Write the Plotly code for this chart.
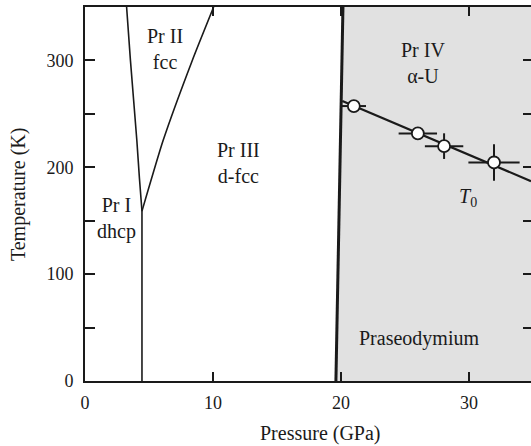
import plotly.graph_objects as go

# Phase boundaries (Pressure GPa, Temperature K)
p_I_III = [4.45, 4.45]
t_I_III = [0, 159]
p_I_II = [4.45, 4.25, 4.05, 3.55, 3.25]
t_I_II = [159, 190, 225, 300, 350]
p_II_III = [4.45, 6.1, 8.38, 10.05]
t_II_III = [159, 225, 300, 350]
p_III_IV = [19.6, 20.15]
t_III_IV = [0, 350]

# T0 data with error bars
p_T0 = [21.0, 26.0, 28.05, 31.95]
t_T0 = [257.3, 231.7, 219.8, 204.5]
p_err = [0.95, 1.5, 1.5, 2.0]
t_err = [0, 4, 12, 17]
p_T0_line = [20.1, 34.84]
t_T0_line = [262, 187]

x_range = [0, 34.84]
y_range = [0, 350]

FONT = "Liberation Serif"
INK = "#1a1a1a"

fig = go.Figure()

# shaded Pr IV region
fig.add_trace(go.Scatter(
    x=p_III_IV + [x_range[1], x_range[1]],
    y=t_III_IV + [y_range[1], y_range[0]],
    fill="toself", fillcolor="#e1e1e1", mode="none", hoverinfo="skip",
    showlegend=False))

for px, ty, w, shp in [(p_I_III, t_I_III, 1.6, "linear"), (p_I_II, t_I_II, 1.6, "spline"),
                       (p_II_III, t_II_III, 1.6, "spline"), (p_III_IV, t_III_IV, 3.0, "linear")]:
    fig.add_trace(go.Scatter(x=px, y=ty, mode="lines",
                             line=dict(color=INK, width=w, shape=shp, smoothing=0.5),
                             showlegend=False))

fig.add_trace(go.Scatter(x=p_T0_line, y=t_T0_line, mode="lines",
                         line=dict(color=INK, width=2.2), showlegend=False))

fig.add_trace(go.Scatter(
    x=p_T0, y=t_T0, mode="markers",
    marker=dict(size=12, color="white", line=dict(color=INK, width=1.8)),
    error_x=dict(type="data", array=p_err, color=INK, thickness=2, width=0),
    error_y=dict(type="data", array=t_err, color=INK, thickness=2, width=0),
    showlegend=False))

# right-side mirrored ticks via overlay axis
fig.add_trace(go.Scatter(x=[None], y=[None], yaxis="y2", showlegend=False))

labels = [
    (6.25, 311, "Pr II<br>fcc"),
    (2.48, 152, "Pr I<br>dhcp"),
    (11.98, 204, "Pr III<br>d-fcc"),
    (26.4, 298, "Pr IV<br>α-U"),
    (29.9, 172, "<i>T</i><sub>0</sub>"),
    (26.1, 40, "Praseodymium"),
]
for x, y, t in labels:
    fig.add_annotation(x=x, y=y, text=t, showarrow=False, xanchor="center",
                       yanchor="middle", font=dict(family=FONT, size=20, color=INK))

fig.add_annotation(xref="paper", yref="paper", x=0.529, y=-0.14, text="Pressure (GPa)",
                   showarrow=False, xanchor="center", yanchor="middle",
                   font=dict(family=FONT, size=20, color=INK))
fig.add_annotation(xref="paper", yref="paper", x=-0.15, y=0.5, text="Temperature (K)",
                   showarrow=False, xanchor="center", yanchor="middle", textangle=-90,
                   font=dict(family=FONT, size=20, color=INK))

fig.update_layout(
    width=531, height=446,
    margin=dict(l=85, r=0, t=7, b=65),
    paper_bgcolor="white", plot_bgcolor="white",
    font=dict(family=FONT, size=18, color=INK),
    xaxis=dict(range=x_range, tickvals=[0, 10, 20, 30], ticks="inside", ticklen=9,
               tickwidth=1.5, tickcolor=INK, showline=True, linecolor=INK, linewidth=2,
               mirror="ticks", showgrid=False, zeroline=False, ticklabelstandoff=4,
               tickfont=dict(family=FONT, size=18, color=INK)),
    yaxis=dict(range=y_range, tickvals=[0, 100, 200, 300], ticks="inside", ticklen=10,
               tickwidth=1.5, tickcolor=INK, showline=True, linecolor=INK, linewidth=2,
               showgrid=False, zeroline=False, ticklabelstandoff=6,
               minor=dict(tickvals=[50, 150, 250], ticks="inside", ticklen=10,
                          tickwidth=1.5, tickcolor=INK),
               tickfont=dict(family=FONT, size=18, color=INK)),
    yaxis2=dict(range=y_range, overlaying="y", side="right", anchor="x",
                tickvals=[50, 100, 150, 200, 250, 300], ticks="inside", ticklen=8,
                tickwidth=1.5, tickcolor=INK, showticklabels=False, showline=False,
                showgrid=False, zeroline=False),
)

fig.write_html("out.html")
